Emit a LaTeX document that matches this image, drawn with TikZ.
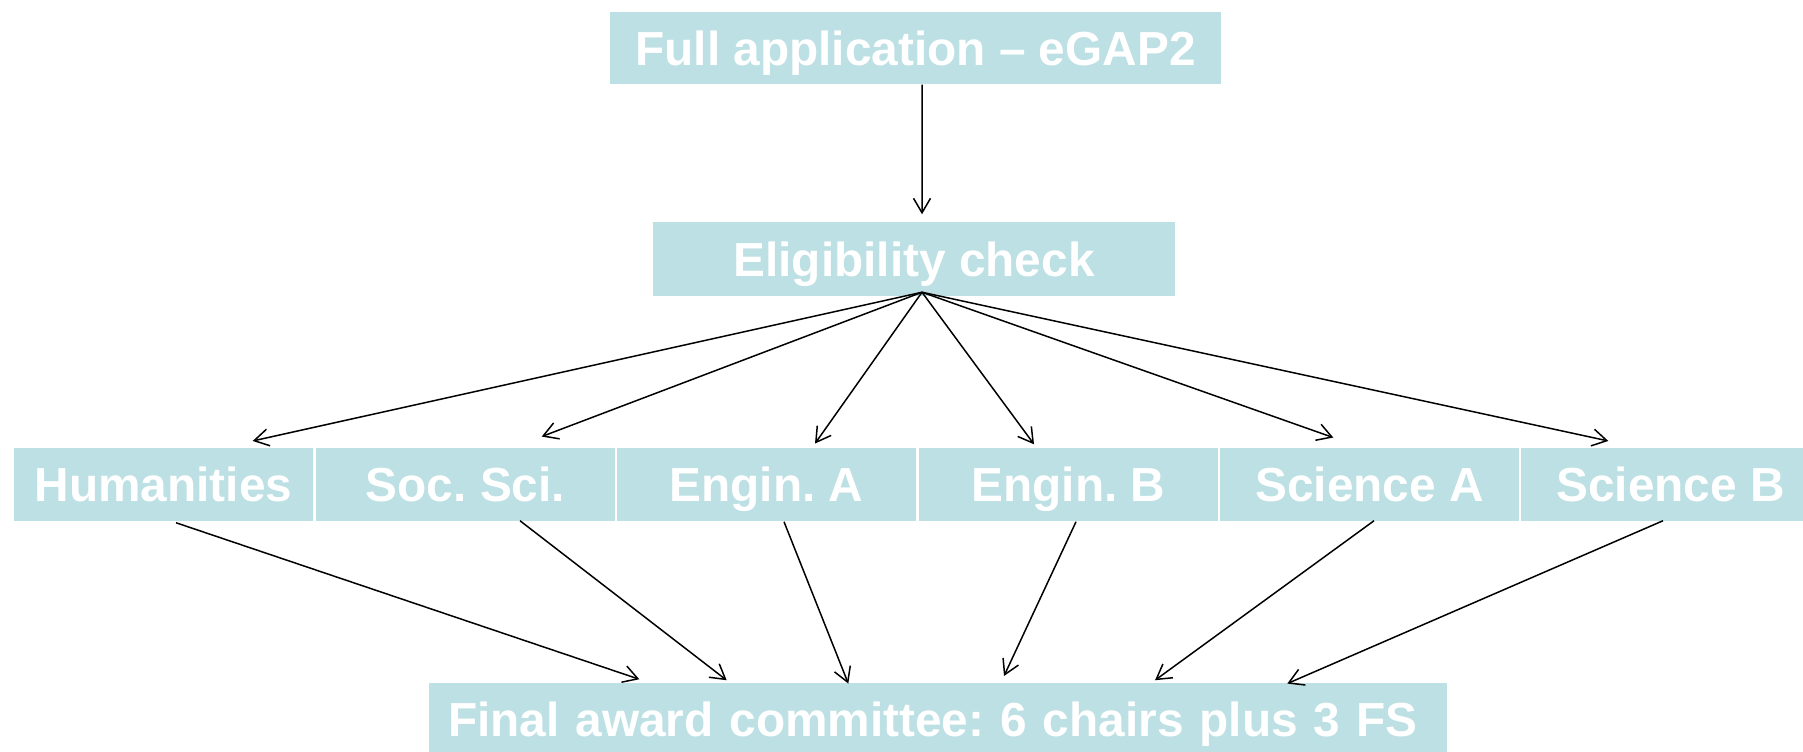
\documentclass[tikz,border=0pt]{standalone}
\usepackage{fontspec}
\setmainfont{Liberation Sans}
\usetikzlibrary{positioning,arrows.meta,calc}
\definecolor{panel}{RGB}{188,224,227}
\frenchspacing
\tikzset{
    box/.style = {
        fill=panel,
        text=white,
        inner sep=0pt,
        font=\fontsize{27.2pt}{32pt}\selectfont\bfseries,
        text height=19.5pt,
        text depth=0pt
    },
    panelrow/.style = {
        box,
        minimum width=5.98cm,
        minimum height=1.46cm
    },
    >={Straight Barb[length=0.29cm,width=0.34cm]},
}

\begin{document}
\begin{tikzpicture}[x=0.02cm, y=-0.02cm, line width=0.85pt]
            \path[use as bounding box, clip] (0,0) rectangle (1803,751);

            \node[box, minimum width=12.22cm, minimum height=1.44cm] (full) at (915.5, 48)  {Full application -- eGAP2};
            \node[box, minimum width=10.44cm, minimum height=1.48cm] (elig) at (914, 259)   {Eligibility check};
            \node[panelrow] (hum)  at (163.5,  484.5) {Humanities};
            \node[panelrow] (soc)  at (465.5,  484.5) {Soc. Sci.};
            \node[panelrow] (enga) at (766.5,  484.5) {Engin. A};
            \node[panelrow] (engb) at (1068.5, 484.5) {Engin. B};
            \node[panelrow] (scia) at (1369.5, 484.5) {Science A};
            \node[panelrow] (scib) at (1670.5, 484.5) {Science B};
            \node[box, minimum height=1.46cm, inner xsep=0.38cm, text width=19.6cm, align=left] (final) at (938, 719.5) {Final award committee: 6 chairs plus 3 FS};

            \path[draw, ->] ($(full.south)+(6.5,0)$) -- ($(elig.north)+(8,-7)$);

            % from the eligibility check to the panels
            \path[draw, ->] ($(elig.south)+(8,-4.5)$) -- ($(hum.north)+(89.2,-6.3)$);
            \path[draw, ->] ($(elig.south)+(8,-4.5)$) -- ($(soc.north)+(76.2,-10.7)$);
            \path[draw, ->] ($(elig.south)+(8,-4.5)$) -- ($(enga.north)+(48.5,-3.7)$);
            \path[draw, ->] ($(elig.south)+(8,-4.5)$) -- ($(engb.north)+(-34.5,-3)$);
            \path[draw, ->] ($(elig.south)+(8,-4.5)$) -- ($(scia.north)+(-36.2,-9.7)$);
            \path[draw, ->] ($(elig.south)+(8,-4.5)$) -- ($(scib.north)+(-62.2,-6.3)$);

            % from the panels to the committee
            \path[draw, ->] ($(hum.south)+(12.5,1)$)   -- ($(final.north)+(-298.7,-3)$);
            \path[draw, ->] ($(soc.south)+(54.5,-1)$)  -- ($(final.north)+(-211.3,-2)$);
            \path[draw, ->] ($(enga.south)+(17.5,0)$)  -- ($(final.north)+(-89.7,1.3)$);
            \path[draw, ->] ($(engb.south)+(7.5,0)$)   -- ($(final.north)+(66,-6.3)$);
            \path[draw, ->] ($(scia.south)+(4.5,-1)$)  -- ($(final.north)+(217,-2)$);
            \path[draw, ->] ($(scib.south)+(-7.5,-1)$) -- ($(final.north)+(349.3,1.3)$);
        \end{tikzpicture}
\end{document}
